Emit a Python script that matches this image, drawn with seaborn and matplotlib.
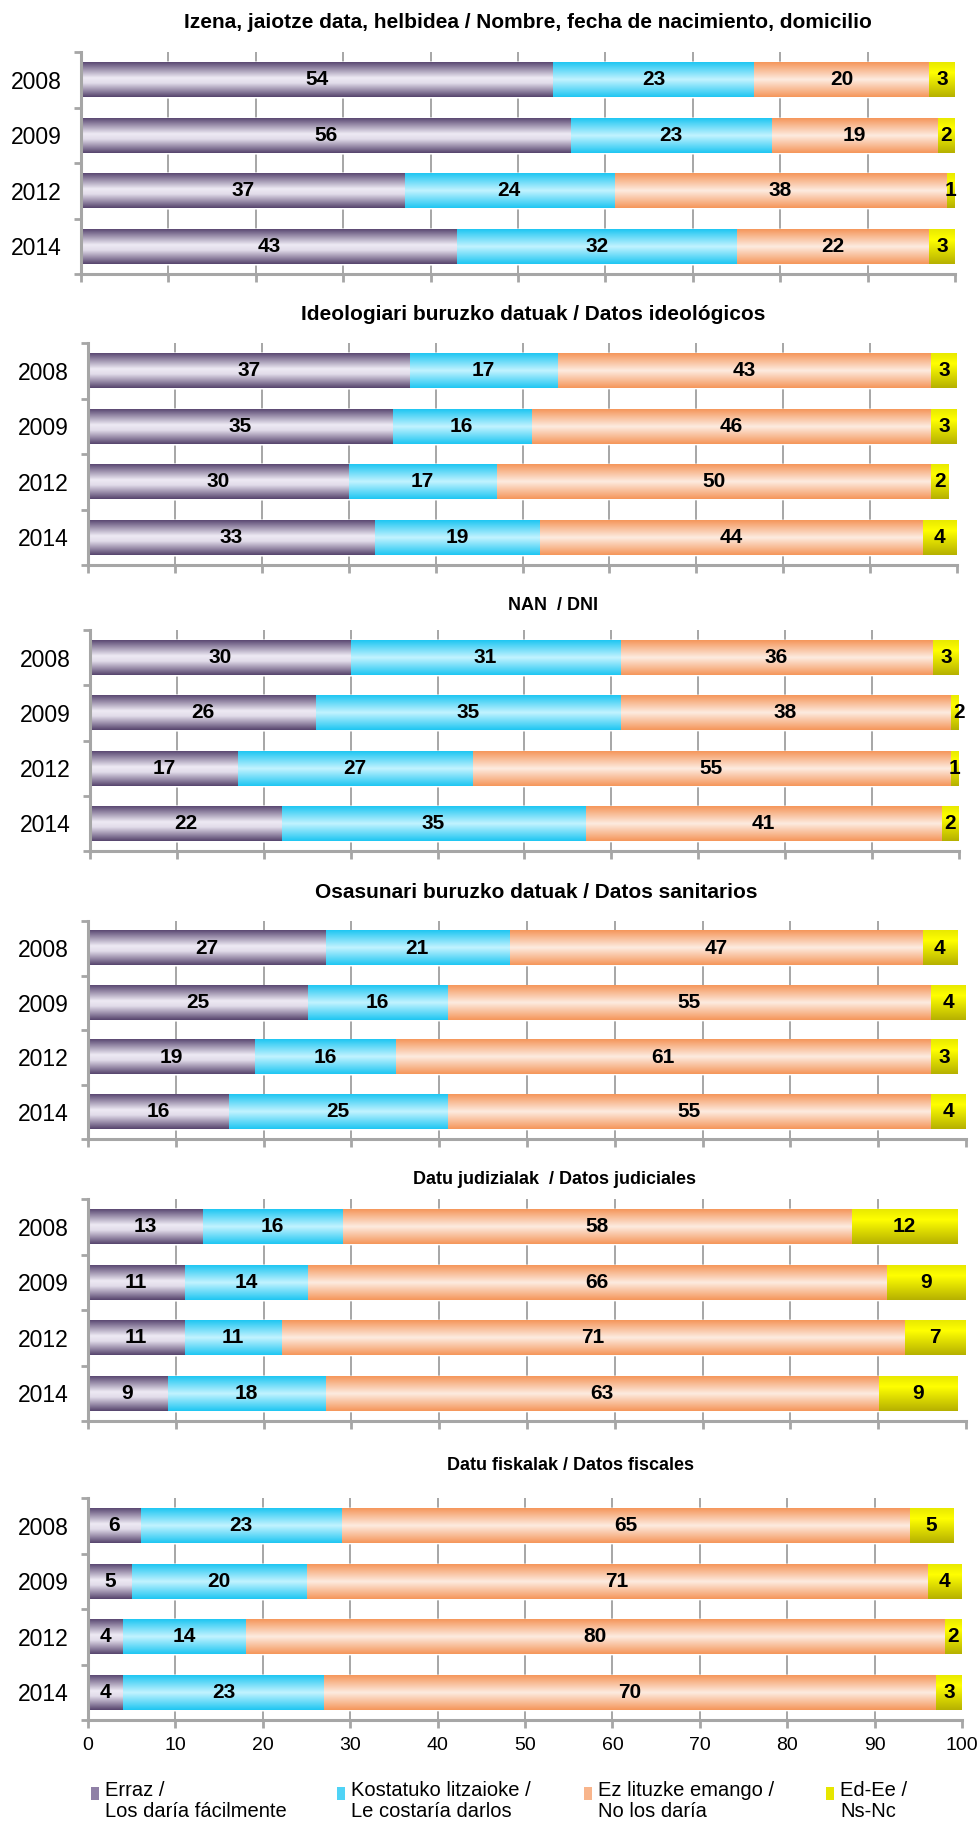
import matplotlib
matplotlib.use("Agg")
import matplotlib.pyplot as plt
import numpy as np
import pandas as pd
import seaborn as sns
from matplotlib.colors import LinearSegmentedColormap
from matplotlib.patches import Rectangle

years = ["2008", "2009", "2012", "2014"]
series_labels = [
    "Erraz /\nLos daría fácilmente",
    "Kostatuko litzaioke /\nLe costaría darlos",
    "Ez lituzke emango /\nNo los daría",
    "Ed-Ee /\nNs-Nc",
]
titles = [
    "Izena, jaiotze data, helbidea / Nombre, fecha de nacimiento, domicilio",
    "Ideologiari buruzko datuak / Datos ideológicos",
    "NAN  / DNI",
    "Osasunari buruzko datuak / Datos sanitarios",
    "Datu judizialak  / Datos judiciales",
    "Datu fiskalak / Datos fiscales",
]

# one row per panel, one value per year
erraz = [[54, 56, 37, 43], [37, 35, 30, 33], [30, 26, 17, 22],
         [27, 25, 19, 16], [13, 11, 11, 9], [6, 5, 4, 4]]
kostatuko = [[23, 23, 24, 32], [17, 16, 17, 19], [31, 35, 27, 35],
             [21, 16, 16, 25], [16, 14, 11, 18], [23, 20, 14, 23]]
ez_luke = [[20, 19, 38, 22], [43, 46, 50, 44], [36, 38, 55, 41],
           [47, 55, 61, 55], [58, 66, 71, 63], [65, 71, 80, 70]]
ed_ee = [[3, 2, 1, 3], [3, 3, 2, 4], [3, 2, 1, 2],
         [4, 4, 3, 4], [12, 9, 7, 9], [5, 4, 2, 3]]

W, H = 979, 1827
GRAY = "#a6a6a6"

# panel boxes in pixels: x of 0, x of 100, top, bottom, title y, title x, title size
panel_boxes = [
    (81, 955, 52, 274, 23, 528, 15),
    (88, 957, 343, 565, 315, 533, 15),
    (90, 959, 630, 851, 606, 553, 13),
    (88, 966, 921, 1139, 892, 536, 15),
    (88, 966, 1199, 1421, 1180, 555, 13),
    (88, 962, 1498, 1720, 1466, 571, 13),
]

gradients = [
    LinearSegmentedColormap.from_list("purple", [(0, "#5a4872"), (0.45, "#eeeaf4"), (0.6, "#e2dcea"), (1, "#55436c")]),
    LinearSegmentedColormap.from_list("cyan", [(0, "#1ec6f2"), (0.5, "#c2f3ff"), (1, "#1ec6f2")]),
    LinearSegmentedColormap.from_list("salmon", [(0, "#f5965a"), (0.5, "#fdebe0"), (1, "#f5965a")]),
    LinearSegmentedColormap.from_list("yellow", [(0, "#e8e800"), (0.3, "#ffff00"), (1, "#b5b000")]),
]
base_colors = ["#8f80a6", "#4fd3f6", "#f8b58c", "#e6e600"]

sns.set_theme(style="white")
plt.rcParams["font.family"] = ["Liberation Sans", "DejaVu Sans"]

fig = plt.figure(figsize=(W / 100, H / 100), dpi=100)
grad = np.linspace(0, 1, 256).reshape(-1, 1)


def draw_panel(k):
    x0, x1, top, bottom, ty, tx, tsize = panel_boxes[k]
    ax = fig.add_axes([x0 / W, 1 - bottom / H, (x1 - x0) / W, (bottom - top) / H])
    values = [erraz[k], kostatuko[k], ez_luke[k], ed_ee[k]]
    frame = pd.DataFrame({"year": years})
    cum = np.cumsum(np.array(values), axis=0)
    # stack by overlapping cumulative bars, longest first
    for i in range(3, -1, -1):
        frame["cum"] = cum[i]
        n_before = len(ax.patches)
        sns.barplot(data=frame, x="cum", y="year", orient="h", order=years,
                    color=base_colors[i], saturation=1, width=0.63, ax=ax)
        for patch in ax.patches[n_before:]:
            bx, by = patch.get_x(), patch.get_y()
            bw, bh = patch.get_width(), patch.get_height()
            ax.imshow(grad, extent=(bx, bx + bw, by + bh, by), origin="upper",
                      aspect="auto", cmap=gradients[i], interpolation="bilinear",
                      clip_path=patch, zorder=2 + (3 - i) * 0.1)
    for i in range(4):
        for j, year in enumerate(years):
            v = values[i][j]
            ax.text(cum[i][j] - v / 2, j, str(v), ha="center", va="center",
                    fontsize=15, fontweight="bold", color="black", zorder=5)

    ax.set_xlim(0, 100)
    ax.set_ylim(3.5, -0.5)
    ax.set_xlabel("")
    ax.set_ylabel("")
    ax.set_xticks(range(0, 101, 10))
    ax.grid(axis="x", color=GRAY, linewidth=1.4)
    ax.grid(axis="y", visible=False)
    ax.set_axisbelow(True)
    ax.xaxis.get_major_ticks()[-1].gridline.set_visible(False)
    ax.xaxis.get_major_ticks()[0].gridline.set_visible(False)
    ax.set_yticks(range(4))
    ax.set_yticklabels(years)
    ax.set_yticks([-0.5, 0.5, 1.5, 2.5, 3.5], minor=True)
    ax.tick_params(axis="y", which="major", length=0, pad=14, labelsize=16.5, labelcolor="black")
    ax.tick_params(axis="y", which="minor", left=True, length=5, width=2, color=GRAY, direction="out")
    ax.tick_params(axis="x", which="major", bottom=True, length=6, width=2, color=GRAY,
                   direction="out", labelsize=14, pad=6, labelcolor="black",
                   labelbottom=(k == len(panel_boxes) - 1))
    for side in ["top", "right"]:
        ax.spines[side].set_visible(False)
    for side in ["left", "bottom"]:
        ax.spines[side].set_color(GRAY)
        ax.spines[side].set_linewidth(2.2)
    fig.text(tx / W, 1 - ty / H, titles[k], ha="center", va="center",
             fontsize=tsize, fontweight="bold", color="black")


for k in range(len(panel_boxes)):
    draw_panel(k)

# legend along the bottom
legend_x = [91, 337, 584, 826]
for i, label in enumerate(series_labels):
    mx = legend_x[i]
    fig.patches.append(Rectangle((mx / W, 1 - 1800 / H), 8 / W, 13 / H,
                                 transform=fig.transFigure, facecolor=base_colors[i],
                                 edgecolor="none"))
    fig.text((mx + 14) / W, 1 - 1781 / H, label, ha="left", va="top",
             fontsize=14.5, color="black", linespacing=1.15)

fig.savefig("out.png", dpi=100)
plt.close(fig)
